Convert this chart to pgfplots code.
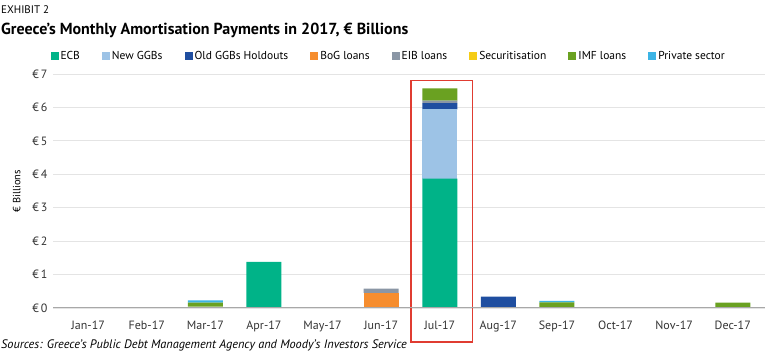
\documentclass[border=0pt]{standalone}
\usepackage{pgfplots}
\pgfplotsset{compat=1.18}
\usepackage{fontspec}
\setmainfont{PT Sans}
\definecolor{cECB}{HTML}{00B388}
\definecolor{cNew}{HTML}{9DC3E6}
\definecolor{cOld}{HTML}{1F4EA0}
\definecolor{cBoG}{HTML}{F68D2E}
\definecolor{cEIB}{HTML}{8A96A5}
\definecolor{cSec}{HTML}{F5CC16}
\definecolor{cIMF}{HTML}{6AA121}
\definecolor{cPriv}{HTML}{3CB4E5}
\definecolor{cGrid}{HTML}{E4E4E4}
\definecolor{cAxis}{HTML}{A8A8A8}
\definecolor{cRed}{HTML}{E03C31}
\begin{document}
\begin{tikzpicture}
\useasboundingbox (-53pt,-44pt) rectangle (715pt,308pt);
\node[anchor=west,inner sep=0pt,font=\fontsize{11}{12}\selectfont] at (-52pt,298pt) {EXHIBIT 2};
\node[anchor=west,inner sep=0pt,font=\fontsize{16}{18}\selectfont\bfseries] at (-52pt,278pt) {Greece's Monthly Amortisation Payments in 2017, € Billions};
\node[anchor=west,inner sep=0pt,font=\fontsize{12.3}{13}\selectfont\itshape] at (-52pt,-37pt) {Sources: Greece's Public Debt Management Agency and Moody's Investors Service};
\begin{axis}[
  at={(0pt,0pt)}, anchor=south west,
  scale only axis, width=712pt, height=234pt,
  ybar stacked, bar width=35pt,
  xmin=-0.6, xmax=11.55, ymin=0, ymax=7,
  xtick={0,...,11},
  xticklabels={Jan-17,Feb-17,Mar-17,Apr-17,May-17,Jun-17,Jul-17,Aug-17,Sep-17,Oct-17,Nov-17,Dec-17},
  ytick={0,...,7},
  yticklabel={€\,\pgfmathprintnumber{\tick}},
  /pgf/number format/assume math mode=true,
  ymajorgrids, grid style={cGrid, line width=0.8pt},
  axis line style={draw=none},
  major tick length=0pt,
  tick label style={font=\fontsize{12}{13}\selectfont, text=black!80},
  xticklabel style={yshift=-9pt},
  yticklabel style={xshift=-2pt},
  ylabel={€ Billions}, ylabel style={font=\fontsize{10.5}{12}\selectfont},
  ylabel shift=5pt,
  clip=false,
  legend columns=8,
  legend style={draw=none, fill=none, at={(-0.008,1.077)}, anchor=west, font=\fontsize{11.5}{12}\selectfont, /tikz/every even column/.append style={column sep=20pt}},
  legend image code/.code={\fill[#1] (0pt,-4pt) rectangle (8pt,4pt);},
  every axis plot/.append style={draw=none},
]
\draw[cAxis, line width=1pt] (axis cs:-0.6,0) -- (axis cs:11.55,0);
\addplot[fill=cECB] coordinates {(0,0)(1,0)(2,0)(3,1.38)(4,0)(5,0)(6,3.87)(7,0)(8,0)(9,0)(10,0)(11,0)};
\addlegendentry{ECB}
\addplot[fill=cNew] coordinates {(0,0)(1,0)(2,0)(3,0)(4,0)(5,0)(6,2.07)(7,0)(8,0)(9,0)(10,0)(11,0)};
\addlegendentry{New GGBs}
\addplot[fill=cOld] coordinates {(0,0)(1,0)(2,0)(3,0)(4,0)(5,0)(6,0.19)(7,0.34)(8,0)(9,0)(10,0)(11,0)};
\addlegendentry{Old GGBs Holdouts}
\addplot[fill=cBoG] coordinates {(0,0)(1,0)(2,0)(3,0)(4,0)(5,0.45)(6,0)(7,0)(8,0)(9,0)(10,0)(11,0)};
\addlegendentry{BoG loans}
\addplot[fill=cEIB] coordinates {(0,0)(1,0)(2,0)(3,0)(4,0)(5,0.13)(6,0.07)(7,0)(8,0)(9,0)(10,0)(11,0)};
\addlegendentry{EIB loans}
\addplot[fill=cSec] coordinates {(0,0)(1,0)(2,0.04)(3,0)(4,0)(5,0)(6,0)(7,0)(8,0)(9,0)(10,0)(11,0)};
\addlegendentry{Securitisation}
\addplot[fill=cIMF] coordinates {(0,0)(1,0)(2,0.12)(3,0)(4,0)(5,0)(6,0.37)(7,0)(8,0.17)(9,0)(10,0)(11,0.16)};
\addlegendentry{IMF loans}
\addplot[fill=cPriv] coordinates {(0,0)(1,0)(2,0.07)(3,0)(4,0)(5,0)(6,0)(7,0)(8,0.04)(9,0)(10,0)(11,0)};
\addlegendentry{Private sector}
\draw[cRed, line width=1.6pt] (axis cs:5.51,6.81) rectangle (axis cs:6.56,-1.02);
\end{axis}
\end{tikzpicture}
\end{document}
